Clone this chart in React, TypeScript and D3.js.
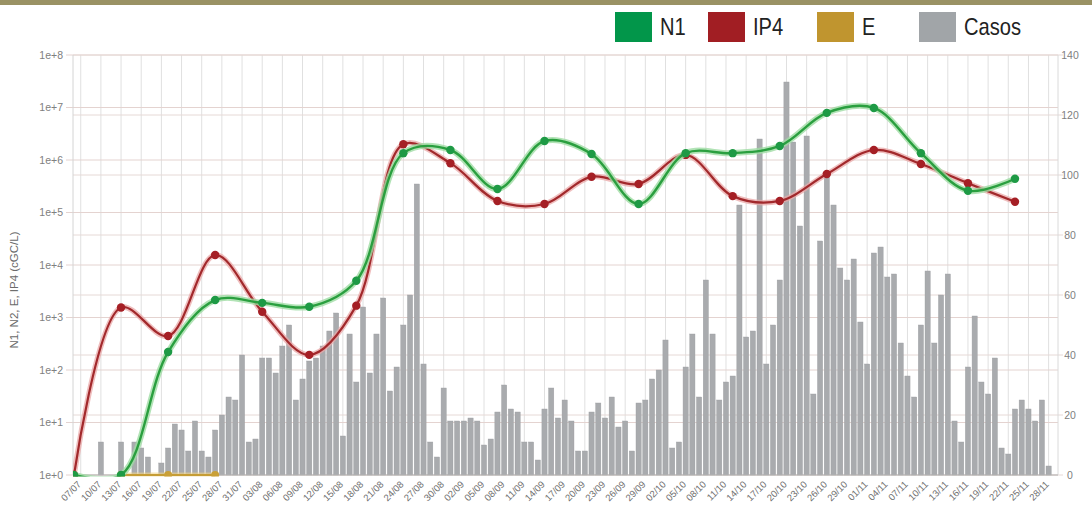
import React from "react";
import * as d3 from "d3";

// ---------- DATA ----------
const startDate = "07/07";

// daily cases from 07/07 to 29/11
const casos = [
  0, 0, 0, 0, 11, 0, 0, 11, 0, 11, 9, 6, 0, 4, 9, 17, 15, 8, 18, 8,
  6, 15, 20, 26, 25, 40, 11, 12, 39, 39, 34, 43, 50, 25, 32, 38, 39, 43, 48, 54,
  13, 47, 31, 56, 34, 47, 59, 28, 36, 50, 60, 97, 37, 11, 6, 29, 18, 18, 18, 19,
  18, 10, 12, 21, 30, 22, 21, 11, 11, 5, 22, 29, 19, 25, 18, 8, 8, 21, 24, 19,
  26, 16, 18, 8, 24, 25, 32, 35, 45, 9, 11, 36, 47, 26, 65, 47, 25, 31, 33, 90,
  46, 48, 112, 37, 50, 65, 131, 111, 83, 113, 27, 78, 100, 90, 69, 65, 72, 51, 37, 74,
  76, 66, 67, 44, 33, 26, 50, 68, 44, 60, 67, 18, 11, 36, 53, 31, 27, 39, 9, 7,
  22, 25, 22, 18, 25, 3,
];

const sampleDates = [
  "07/07", "14/07", "21/07", "28/07", "04/08", "11/08", "18/08", "25/08", "01/09", "08/09",
  "15/09", "22/09", "29/09", "06/10", "13/10", "20/10", "27/10", "03/11", "10/11", "17/11", "24/11",
];

const n1Values = [
  1, 1, 220, 2150, 1900, 1600, 5000, 1.35e6, 1.55e6, 2.8e5,
  2.3e6, 1.3e6, 1.45e5, 1.35e6, 1.35e6, 1.85e6, 7.9e6, 9.8e6, 1.35e6, 2.6e5, 4.4e5,
];

const ip4Values = [
  1, 1550, 445, 15500, 1290, 194, 1680, 2.0e6, 8.7e5, 1.66e5,
  1.45e5, 4.8e5, 3.5e5, 1.25e6, 2.05e5, 1.66e5, 5.4e5, 1.55e6, 8.4e5, 3.6e5, 1.6e5,
];

const eDates = ["14/07", "21/07", "28/07"];
const eValues = [1, 1, 1];

const xTickLabels = [
  "07/07", "10/07", "13/07", "16/07", "19/07", "22/07", "25/07", "28/07", "31/07", "03/08",
  "06/08", "09/08", "12/08", "15/08", "18/08", "21/08", "24/08", "27/08", "30/08", "02/09",
  "05/09", "08/09", "11/09", "14/09", "17/09", "20/09", "23/09", "26/09", "29/09", "02/10",
  "05/10", "08/10", "11/10", "14/10", "17/10", "20/10", "23/10", "26/10", "29/10", "01/11",
  "04/11", "07/11", "10/11", "13/11", "16/11", "19/11", "22/11", "25/11", "28/11",
];

const logTicks = [1, 10, 100, 1e3, 1e4, 1e5, 1e6, 1e7, 1e8];
const logTickLabels = ["1e+0", "1e+1", "1e+2", "1e+3", "1e+4", "1e+5", "1e+6", "1e+7", "1e+8"];
const caseTicks = [0, 20, 40, 60, 80, 100, 120, 140];

const legendItems = [
  { label: "N1", color: "#02964a" },
  { label: "IP4", color: "#a11e23" },
  { label: "E", color: "#c0952f" },
  { label: "Casos", color: "#a1a5a8" },
];

// ---------- HELPERS ----------
const parse = (s: string) => new Date(2020, +s.slice(3, 5) - 1, +s.slice(0, 2));
const start = parse(startDate);
const dayIdx = (s: string) => d3.timeDay.count(start, parse(s));

const W = 1092;
const H = 519;
const left = 73;
const right = 1058;
const top = 55;
const bottom = 475;

export default function App() {
  const x = d3.scaleLinear().domain([0, 140]).range([74, 1015]);
  const yLog = d3.scaleLog().domain([1, 1e8]).range([bottom, top]);
  const yCases = d3.scaleLinear().domain([0, 140]).range([bottom, top]);

  const curve = d3.curveCatmullRom.alpha(0.5);
  const mk = (dates: string[], vals: number[]) =>
    dates.map((d, i) => [x(dayIdx(d)), yLog(vals[i])] as [number, number]);
  const lineGen = d3.line().curve(curve);

  const n1Pts = mk(sampleDates, n1Values);
  const ip4Pts = mk(sampleDates, ip4Values);
  const ePts = mk(eDates, eValues);

  const gridDays = d3.range(1, 146, 3);
  const font = "'Liberation Sans', Arial, sans-serif";
  const axisFont = "'Liberation Sans', Arial, sans-serif";
  const legendX = [615, 708, 817, 919];

  return (
    <svg
      width={W}
      height={H}
      style={{ position: "absolute", left: 0, top: 0, background: "#fff" }}
    >
      <defs>
        <clipPath id="plot">
          <rect x={left} y={top - 10} width={right - left} height={bottom - top + 11.5} />
        </clipPath>
      </defs>
      <rect x={0} y={0} width={W} height={5} fill="#9a9264" />

      {/* legend */}
      {legendItems.map((it, i) => {
        const xs = legendX[i];
        return (
          <g key={it.label}>
            <rect x={xs} y={12} width={37} height={30} fill={it.color} />
            <text
              transform={`translate(${xs + 45},35) scale(0.84,1)`}
              fontSize={24}
              fontFamily={font}
              fill="#222"
            >
              {it.label}
            </text>
          </g>
        );
      })}

      {/* vertical grid */}
      {gridDays.map((d) => (
        <line key={"v" + d} x1={x(d)} x2={x(d)} y1={top} y2={bottom} stroke="#e0e0e0" strokeWidth={1} />
      ))}
      {/* log grid */}
      {logTicks.map((t) => (
        <line key={"hl" + t} x1={66} x2={right} y1={yLog(t)} y2={yLog(t)} stroke="#e4d3d0" strokeWidth={1} />
      ))}
      {/* cases grid */}
      {caseTicks.map((t) => (
        <line key={"hc" + t} x1={left} x2={right + 5} y1={yCases(t)} y2={yCases(t)} stroke="#e6d9d6" strokeWidth={1} />
      ))}
      <line x1={left} x2={left} y1={top} y2={bottom} stroke="#d4d4d4" />
      <line x1={right} x2={right} y1={top} y2={bottom} stroke="#dadada" />

      {/* bars */}
      {casos.map((v, i) =>
        v > 0 ? (
          <rect
            key={"b" + i}
            x={x(i) - 2.6}
            y={yCases(v)}
            width={5.2}
            height={bottom - yCases(v)}
            fill="#a9abae"
            stroke="#9c9ea1"
            strokeWidth={0.4}
          />
        ) : null
      )}
      <line x1={left} x2={right} y1={bottom} y2={bottom} stroke="#b5b5b5" />

      <g clipPath="url(#plot)">
        {/* E */}
        <path d={lineGen(ePts) || ""} fill="none" stroke="#f0d48a" strokeWidth={5} opacity={0.6} />
        <path d={lineGen(ePts) || ""} fill="none" stroke="#c69d35" strokeWidth={2} />
        {ePts.map((p, i) => (
          <circle key={"e" + i} cx={p[0]} cy={p[1]} r={4} fill="#c9a038" />
        ))}
        {/* IP4 */}
        <path d={lineGen(ip4Pts) || ""} fill="none" stroke="#eaa8a8" strokeWidth={5.5} opacity={0.75} />
        <path d={lineGen(ip4Pts) || ""} fill="none" stroke="#a2292c" strokeWidth={2.2} />
        {ip4Pts.map((p, i) => (
          <circle key={"r" + i} cx={p[0]} cy={p[1]} r={4.2} fill="#a51f25" />
        ))}
        {/* N1 */}
        <path d={lineGen(n1Pts) || ""} fill="none" stroke="#9fdca4" strokeWidth={6} opacity={0.8} />
        <path d={lineGen(n1Pts) || ""} fill="none" stroke="#2a9f3f" strokeWidth={2.4} />
        {n1Pts.map((p, i) => (
          <circle key={"g" + i} cx={p[0]} cy={p[1]} r={4.2} fill="#1e9a45" />
        ))}
      </g>

      {/* left axis labels */}
      {logTicks.map((t, i) => (
        <text
          key={"ll" + t}
          x={63}
          y={yLog(t) + 3.5}
          textAnchor="end"
          fontSize={10.5}
          fontFamily={axisFont}
          fill="#808080"
        >
          {logTickLabels[i]}
        </text>
      ))}
      <text
        transform={`translate(18,${290}) rotate(-90)`}
        textAnchor="middle"
        fontSize={11.5}
        fontFamily={axisFont}
        fill="#6a6a6a"
      >
        N1, N2, E, IP4 (cGC/L)
      </text>

      {/* right axis labels */}
      {caseTicks.map((t) => (
        <text
          key={"rl" + t}
          x={1070}
          y={yCases(t) + 3.5}
          textAnchor="middle"
          fontSize={10.5}
          fontFamily={axisFont}
          fill="#808080"
        >
          {t}
        </text>
      ))}

      {/* x labels */}
      {xTickLabels.map((s, k) => {
        const px = x(3 * k + 1);
        return (
          <text
            key={"xl" + k}
            transform={`translate(${px + 1},${485}) rotate(-45)`}
            textAnchor="end"
            fontSize={9.5}
            fontFamily={axisFont}
            fill="#6f6f6f"
          >
            {s}
          </text>
        );
      })}
    </svg>
  );
}
